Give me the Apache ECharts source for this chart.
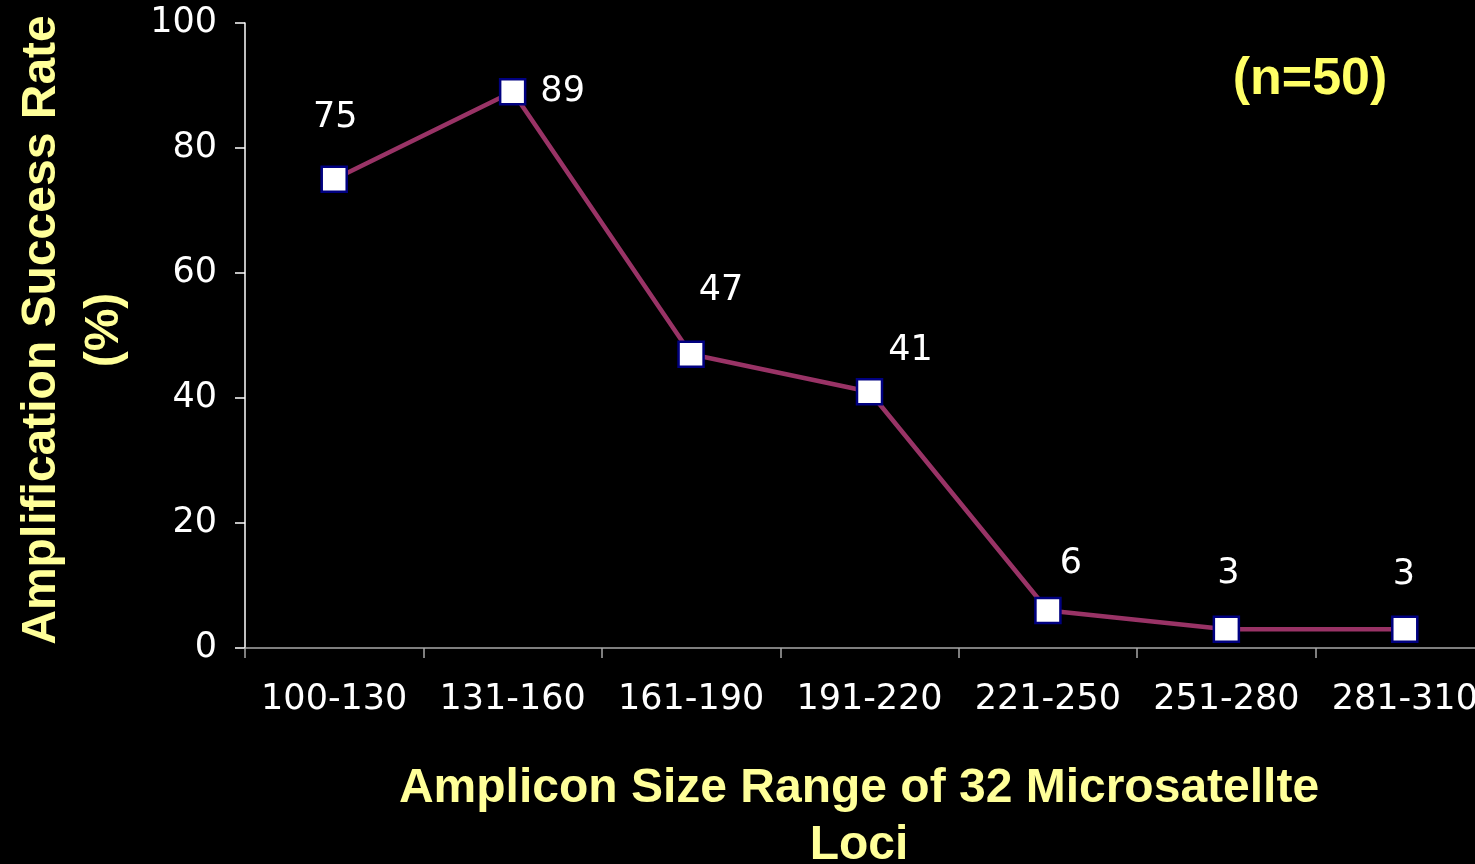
<!DOCTYPE html>
<html>
<head>
<meta charset="utf-8">
<script src="https://cdn.jsdelivr.net/npm/echarts@6/dist/echarts.min.js"></script>
<style>
  html, body { margin: 0; padding: 0; background: #000; overflow: hidden; }
  /* drawing surface is a little wider than the window; the right edge is cropped */
  #chart { width: 1500px; height: 864px; }
</style>
</head>
<body>
<div id="chart"></div>
<script>
// Amplicon size ranges (bp) and amplification success rate (%)
const categories = ['100-130', '131-160', '161-190', '191-220', '221-250', '251-280', '281-310'];
const successRate = [75, 89, 47, 41, 6, 3, 3];
const yTicks = { min: 0, max: 100, interval: 20 };

// Per-point label placement (pixels from the marker centre)
const labelOffsets = [[1, -61], [50, 0], [30, -63], [41, -41], [23, -47], [2, -55], [-1, -54]];

const numFont = 'DejaVu Sans';
const titleFont = '"Liberation Sans", Arial, Helvetica, sans-serif';
const titleColor = '#ffff99';

const chart = echarts.init(document.getElementById('chart'), null, { renderer: 'canvas' });

const seriesData = successRate.map((v, i) => ({
  value: v,
  label: { offset: labelOffsets[i] }
}));

chart.setOption({
  backgroundColor: '#000000',
  animation: false,
  grid: { left: 245, top: 23, width: 1249, height: 625, containLabel: false, outerBoundsMode: 'none' },
  xAxis: {
    type: 'category',
    data: categories,
    boundaryGap: true,
    axisLine: { show: true, lineStyle: { color: '#a8a8a8', width: 1.5 } },
    axisTick: { show: true, length: 10, alignWithLabel: false, lineStyle: { color: '#a8a8a8', width: 1.5 } },
    axisLabel: { color: '#ffffff', fontFamily: numFont, fontSize: 35, margin: 34, interval: 0 },
    splitLine: { show: false }
  },
  yAxis: {
    type: 'value',
    min: yTicks.min,
    max: yTicks.max,
    interval: yTicks.interval,
    axisLine: { show: true, lineStyle: { color: '#ffffff', width: 1.5 } },
    axisTick: { show: true, length: 10, lineStyle: { color: '#ffffff', width: 1.5 } },
    axisLabel: { color: '#ffffff', fontFamily: numFont, fontSize: 35, margin: 28 },
    splitLine: { show: false }
  },
  series: [{
    type: 'line',
    data: seriesData,
    symbol: 'rect',
    symbolSize: 25,
    lineStyle: { color: '#993366', width: 4.5 },
    itemStyle: { color: '#ffffff', borderColor: '#000080', borderWidth: 2.5 },
    label: {
      show: true,
      position: 'inside',
      color: '#ffffff',
      fontFamily: numFont,
      fontSize: 35
    }
  }],
  graphic: [
    {
      type: 'text',
      x: 73, y: 330,
      rotation: Math.PI / 2,
      style: {
        text: 'Amplification Success Rate\n(%)',
        fill: titleColor,
        font: 'bold 48px ' + titleFont,
        align: 'center', verticalAlign: 'middle',
        textAlign: 'center', textVerticalAlign: 'middle',
        lineHeight: 63
      }
    },
    {
      type: 'text',
      x: 859, y: 817,
      style: {
        text: 'Amplicon Size Range of 32 Microsatellte\nLoci',
        fill: titleColor,
        font: 'bold 48px ' + titleFont,
        align: 'center', verticalAlign: 'middle',
        textAlign: 'center', textVerticalAlign: 'middle',
        lineHeight: 57
      }
    },
    {
      type: 'text',
      x: 1310, y: 80,
      style: {
        text: '(n=50)',
        fill: '#ffff66',
        font: 'bold 52px ' + titleFont,
        align: 'center', verticalAlign: 'middle',
        textAlign: 'center', textVerticalAlign: 'middle'
      }
    }
  ]
});
</script>
</body>
</html>
